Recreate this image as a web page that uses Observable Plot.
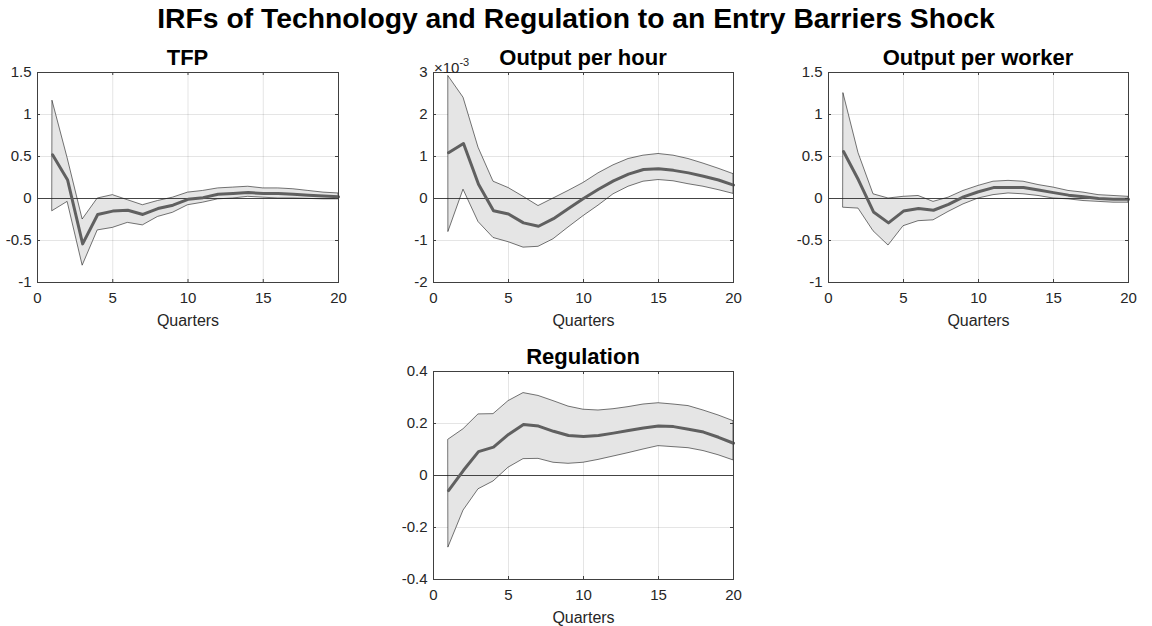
<!DOCTYPE html>
<html><head><meta charset="utf-8">
<script src="https://cdn.jsdelivr.net/npm/d3@7"></script>
<script src="https://cdn.jsdelivr.net/npm/@observablehq/plot@0.6"></script>
<style>
body{margin:0;background:#fff;font-family:"Liberation Sans",Arial,sans-serif;}
#root{position:relative;width:1152px;height:626px;overflow:hidden;background:#fff}
.title{position:absolute;left:0;width:1152px;text-align:center;font-weight:bold;font-size:28.3px;line-height:1;top:4px;color:#000;white-space:nowrap}
.ptitle{position:absolute;text-align:center;font-weight:bold;font-size:22px;line-height:1;color:#000;white-space:nowrap}
.panel{position:absolute}
.expo{position:absolute;font-size:15px;line-height:1;color:#262626;white-space:nowrap}
.expo sup{font-size:11px;position:relative;top:-1px}
</style></head><body><div id="root">
<div class="title">IRFs of Technology and Regulation to an Entry Barriers Shock</div>
</div>
<script>
const quarters = [1,2,3,4,5,6,7,8,9,10,11,12,13,14,15,16,17,18,19,20];

const tfpMean = [0.52,0.22,-0.54,-0.19,-0.15,-0.14,-0.19,-0.12,-0.08,-0.01,0.01,0.05,0.06,0.07,0.06,0.06,0.05,0.04,0.03,0.02];
const tfpHigh = [1.16,0.48,-0.25,0.0,0.04,-0.02,-0.08,-0.03,0.01,0.07,0.09,0.12,0.13,0.14,0.12,0.12,0.11,0.09,0.07,0.06];
const tfpLow  = [-0.15,-0.04,-0.80,-0.38,-0.35,-0.29,-0.32,-0.22,-0.17,-0.08,-0.05,-0.01,0.0,0.02,0.01,0.0,0.0,-0.005,-0.01,-0.01];

// Output per hour, in units of 1e-3
const ophMean = [1.09,1.31,0.34,-0.29,-0.37,-0.58,-0.66,-0.48,-0.24,0.0,0.22,0.42,0.58,0.69,0.71,0.67,0.61,0.53,0.44,0.32];
const ophHigh = [2.91,2.40,1.21,0.40,0.25,0.04,-0.18,0.0,0.18,0.37,0.60,0.79,0.94,1.02,1.06,1.02,0.94,0.83,0.71,0.58];
const ophLow  = [-0.79,0.21,-0.56,-0.94,-1.04,-1.17,-1.15,-0.97,-0.69,-0.42,-0.17,0.10,0.28,0.40,0.44,0.41,0.34,0.28,0.20,0.11];

const opwMean = [0.56,0.22,-0.16,-0.29,-0.15,-0.12,-0.14,-0.07,0.02,0.08,0.13,0.13,0.13,0.10,0.07,0.04,0.02,0.0,-0.01,-0.01];
const opwHigh = [1.25,0.54,0.05,0.0,0.02,0.03,-0.04,0.01,0.09,0.15,0.20,0.21,0.20,0.16,0.13,0.09,0.07,0.04,0.03,0.02];
const opwLow  = [-0.11,-0.12,-0.39,-0.56,-0.33,-0.27,-0.26,-0.16,-0.07,0.0,0.04,0.06,0.05,0.03,0.0,-0.01,-0.03,-0.04,-0.05,-0.05];

const regMean = [-0.058,0.02,0.092,0.109,0.158,0.196,0.19,0.17,0.154,0.15,0.154,0.163,0.173,0.183,0.19,0.188,0.178,0.167,0.147,0.124];
const regHigh = [0.138,0.178,0.235,0.236,0.286,0.317,0.306,0.286,0.265,0.253,0.25,0.255,0.263,0.273,0.278,0.273,0.267,0.25,0.231,0.209];
const regLow  = [-0.276,-0.135,-0.053,-0.023,0.03,0.063,0.064,0.049,0.045,0.049,0.06,0.073,0.086,0.1,0.113,0.109,0.105,0.094,0.078,0.058];

const xTicks = [0,5,10,15,20];
const panelTitles = ["TFP","Output per hour","Output per worker","Regulation"];
const xLabel = "Quarters";

const panels = [
  {title: panelTitles[0], mean: tfpMean, hi: tfpHigh, lo: tfpLow, domain: [-1,1.5], ticks: [-1,-0.5,0,0.5,1,1.5], left: 37, top: 72, w: 301, h: 210},
  {title: panelTitles[1], mean: ophMean, hi: ophHigh, lo: ophLow, domain: [-2,3], ticks: [-2,-1,0,1,2,3], left: 433, top: 72, w: 300, h: 210, expo: true},
  {title: panelTitles[2], mean: opwMean, hi: opwHigh, lo: opwLow, domain: [-1,1.5], ticks: [-1,-0.5,0,0.5,1,1.5], left: 828, top: 72, w: 300, h: 210},
  {title: panelTitles[3], mean: regMean, hi: regHigh, lo: regLow, domain: [-0.4,0.4], ticks: [-0.4,-0.2,0,0.2,0.4], left: 433, top: 371, w: 300, h: 208}
];

const root = document.getElementById("root");
const mL = 50, mR = 15, mT = 12, mB = 60;
const tickLen = 3;

for (const p of panels) {
  const data = quarters.map((q, i) => ({q, mean: p.mean[i], lo: p.lo[i], hi: p.hi[i]}));
  const inner = p.ticks.filter(t => t !== p.domain[0] && t !== p.domain[1]);
  const innerX = xTicks.filter(t => t !== 0 && t !== 20);
  const chart = Plot.plot({
    width: mL + p.w + mR,
    height: mT + p.h + mB,
    marginLeft: mL, marginRight: mR, marginTop: mT, marginBottom: mB,
    style: {fontFamily: "'Liberation Sans', Arial, sans-serif", fontSize: "15px", color: "#262626", background: "transparent", overflow: "visible"},
    x: {domain: [0, 20]},
    y: {domain: p.domain},
    marks: [
      Plot.gridX(xTicks, {stroke: "#262626", strokeOpacity: 0.12}),
      Plot.gridY(p.ticks, {stroke: "#262626", strokeOpacity: 0.12}),
      Plot.areaY(data, {x: "q", y1: "lo", y2: "hi", fill: "#e5e5e5", stroke: "#1a1a1a", strokeWidth: 0.6}),
      Plot.ruleY([0], {stroke: "#1a1a1a", strokeWidth: 0.8}),
      Plot.lineY(data, {x: "q", y: "mean", stroke: "#606060", strokeWidth: 3}),
      Plot.tickX(innerX, {x: d => d, insetTop: p.h - tickLen, stroke: "#404040"}),
      Plot.tickX(innerX, {x: d => d, insetBottom: p.h - tickLen, stroke: "#404040"}),
      Plot.tickY(inner, {y: d => d, insetRight: p.w - tickLen, stroke: "#404040"}),
      Plot.tickY(inner, {y: d => d, insetLeft: p.w - tickLen, stroke: "#404040"}),
      Plot.frame({stroke: "#404040", strokeWidth: 1}),
      Plot.axisX(xTicks, {tickSize: 0, tickPadding: 10, tickFormat: d => String(d), label: null, fontSize: 15}),
      Plot.axisY(p.ticks, {tickSize: 0, tickPadding: 6, tickFormat: d => String(d), label: null, fontSize: 15}),
      Plot.text([xLabel], {frameAnchor: "bottom", dy: 43, fontSize: 16, fill: "#262626"})
    ]
  });
  const div = document.createElement("div");
  div.className = "panel";
  div.style.left = (p.left - mL) + "px";
  div.style.top = (p.top - mT) + "px";
  div.style.width = (mL + p.w + mR) + "px";
  div.appendChild(chart);
  root.appendChild(div);

  const t = document.createElement("div");
  t.className = "ptitle";
  t.textContent = p.title;
  t.style.left = p.left + "px";
  t.style.width = p.w + "px";
  t.style.top = (p.top - 25.5) + "px";
  root.appendChild(t);

  if (p.expo) {
    const e = document.createElement("div");
    e.className = "expo";
    e.innerHTML = "×10<sup>-3</sup>";
    e.style.left = (p.left + 1) + "px";
    e.style.top = (p.top - 14) + "px";
    root.appendChild(e);
  }
}
</script>
</body></html>
